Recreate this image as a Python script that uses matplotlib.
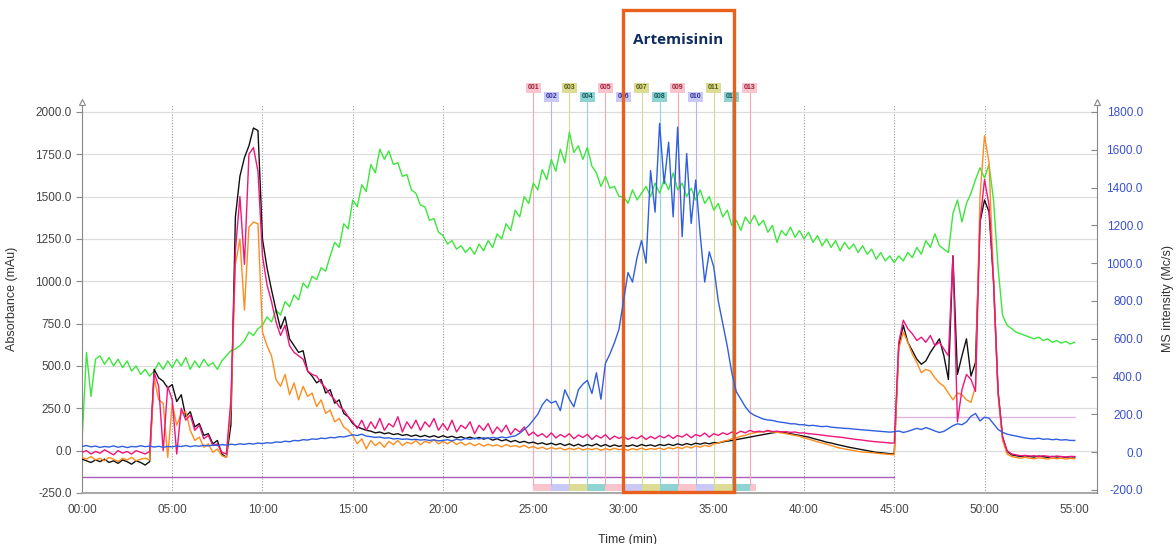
import numpy as np
import matplotlib.pyplot as plt
import matplotlib.transforms as mtransforms
from matplotlib.patches import Rectangle

plt.rcParams['font.family'] = ['Liberation Sans', 'DejaVu Sans']

# time axis, one reading every 15 s (in minutes)
t = np.arange(0, 55.001, 0.25)

# UV traces (mAu), one row per 5 minutes
green = [
    50, 580, 320, 540, 560, 510, 550, 500, 540, 490, 530, 470, 500, 450, 480, 440, 470, 520, 480, 530,
    490, 540, 500, 550, 480, 530, 490, 540, 500, 520, 480, 530, 560, 590, 600, 620, 650, 700, 680, 720,
    740, 790, 760, 830, 800, 880, 850, 920, 890, 990, 960, 1030, 1010, 1080, 1060, 1150, 1230, 1200, 1340, 1310,
    1480, 1440, 1570, 1530, 1690, 1640, 1780, 1720, 1770, 1690, 1700, 1620, 1630, 1540, 1520, 1450, 1440, 1360, 1370, 1290,
    1270, 1220, 1240, 1190, 1210, 1170, 1200, 1160, 1220, 1180, 1240, 1200, 1280, 1250, 1340, 1300, 1420, 1380, 1500, 1460,
    1580, 1540, 1660, 1600, 1720, 1650, 1780, 1700, 1880, 1760, 1800, 1720, 1790, 1680, 1640, 1560, 1620, 1550, 1560, 1500,
    1500, 1460, 1540, 1480, 1520, 1560, 1500, 1580, 1520, 1600, 1540, 1640, 1540, 1580, 1500, 1550, 1480, 1540, 1460, 1500,
    1420, 1460, 1380, 1420, 1330, 1360, 1300, 1380, 1340, 1390, 1330, 1360, 1290, 1330, 1230, 1300, 1270, 1320, 1260, 1300,
    1250, 1290, 1230, 1270, 1210, 1250, 1200, 1240, 1180, 1230, 1190, 1220, 1170, 1210, 1160, 1190, 1130, 1170, 1120, 1150,
    1110, 1150, 1120, 1170, 1140, 1200, 1160, 1240, 1200, 1280, 1210, 1190, 1170, 1400, 1480, 1350, 1460, 1520, 1600, 1670,
    1610, 1690, 1480, 1080, 800, 740, 720, 700, 690, 680, 670, 660, 670, 650, 660, 640, 650, 635, 645, 630,
    640,
]

black = [
    -50, -60, -70, -55, -65, -50, -70, -60, -75, -55, -65, -80, -60, -70, -85, -65, 480, 430, 410, 370,
    390, 290, 330, 200, 230, 140, 160, 90, 100, 40, 60, -20, -40, 150, 1380, 1620, 1730, 1800, 1905, 1890,
    1250, 1080, 950, 830, 720, 790, 660, 620, 580, 590, 470, 440, 400, 420, 340, 360, 280, 300, 220, 200,
    160, 140, 130, 120, 115, 105, 110, 100, 105, 95, 100, 90, 95, 85, 92, 82, 90, 80, 88, 78,
    88, 78, 85, 75, 82, 72, 80, 70, 78, 68, 75, 62, 70, 58, 65, 52, 60, 48, 55, 45,
    50, 40, 46, 36, 44, 34, 42, 30, 40, 28, 38, 26, 36, 28, 40, 26, 36, 24, 34, 25,
    32, 26, 34, 25, 36, 28, 34, 26, 36, 30, 38, 30, 40, 32, 42, 34, 44, 38, 46, 40,
    48, 45, 52, 56, 60, 65, 70, 75, 80, 85, 90, 95, 100, 105, 108, 110, 105, 100, 95, 90,
    85, 80, 72, 65, 58, 50, 45, 38, 32, 26, 20, 15, 10, 5, 0, -5, -10, -12, -15, -18,
    -20, 620, 740, 640, 590, 540, 510, 530, 580, 620, 660, 560, 420, 1150, 450, 560, 660, 440, 520, 1350,
    1480, 1410, 1000, 350, 80, -5, -25, -30, -35, -30, -35, -38, -32, -36, -40, -34, -38, -35, -40, -36,
    -38,
]

magenta = [
    -10, 0, -20, -5, -15, 5, -10, -25, 0, -15, -5, -20, 0, -10, -20, -5, 460, 380, 0, 380,
    300, -20, 250, 180, 210, 120, 150, 70, 90, 30, 40, -10, -20, 300, 1180, 1500, 1100, 1750, 1790, 1650,
    1150, 980, 880, 760, 680, 740, 620, 580, 560, 540, 470, 450, 440, 400, 370, 330, 300, 260, 240, 200,
    170, 130, 180, 120, 170, 130, 190, 120, 160, 140, 200, 110, 170, 130, 180, 120, 170, 140, 190, 120,
    160, 120, 180, 110, 150, 130, 170, 100, 150, 120, 160, 100, 140, 110, 150, 95, 130, 110, 140, 90,
    110, 85, 100, 78, 105, 75, 95, 80, 100, 70, 92, 78, 96, 66, 90, 74, 94, 66, 86, 72,
    85, 66, 80, 70, 88, 66, 84, 70, 88, 75, 92, 72, 90, 80, 98, 76, 95, 85, 104, 80,
    100, 90, 105, 95, 110, 100, 115, 105, 120, 110, 115, 110, 120, 112, 115, 110, 112, 108, 110, 104,
    105, 100, 98, 95, 92, 88, 85, 82, 80, 76, 72, 68, 65, 62, 58, 55, 52, 50, 48, 45,
    45, 640, 770, 720, 690, 650, 670, 640, 680, 620, 640, 600, 560, 1150, 170, 360, 450, 420, 350, 1350,
    1600, 1450, 1000, 350, 80, 0, -20, -25, -30, -28, -32, -30, -35, -30, -33, -36, -32, -35, -38, -34,
    -35,
]

orange = [
    -40, -50, -35, -55, -45, -60, -40, -50, -65, -45, -55, -40, -60, -50, -45, -55, 430, 300, 280, -40,
    280, 150, 220, 230, 120, 60, 80, 20, 40, -10, 10, -30, -40, 250, 1100, 1250, 830, 1320, 1350, 1340,
    700, 620, 560, 420, 380, 450, 330, 400, 300, 380, 320, 340, 260, 300, 220, 240, 170, 190, 140, 120,
    90, 40, 70, 10, 60, 30, 50, 20, 55, 35, 60, 30, 50, 40, 60, 35, 55, 45, 65, 40,
    55, 40, 58, 36, 50, 32, 46, 28, 42, 26, 38, 28, 34, 22, 36, 24, 30, 20, 32, 16,
    25, 12, 20, 8, 18, 10, 16, 4, 14, 6, 16, 4, 12, 6, 14, 2, 12, 4, 14, 6,
    10, 2, 12, 5, 15, 5, 12, 8, 15, 6, 18, 10, 20, 12, 25, 15, 28, 20, 32, 24,
    40, 45, 55, 60, 70, 75, 85, 90, 100, 105, 110, 112, 115, 110, 108, 105, 100, 95, 90, 85,
    75, 68, 60, 52, 45, 38, 30, 22, 15, 10, 5, 0, -5, -8, -10, -12, -15, -18, -20, -22,
    -25, 600, 700, 640, 570, 520, 460, 480, 470, 430, 400, 380, 340, 300, 340, 330, 300, 285, 380, 1500,
    1860, 1700, 1000, 330, 60, -20, -35, -40, -45, -40, -45, -48, -42, -46, -50, -44, -48, -45, -50, -46,
    -48,
]

# MS trace (Mc/s), right axis
blue = [
    30, 35, 28, 32, 25, 30, 27, 33, 26, 31, 24, 30, 28, 34, 29, 32, 27, 31, 26, 30,
    28, 33, 30, 35, 29, 34, 31, 36, 33, 38, 35, 40, 37, 42, 39, 44, 41, 46, 43, 48,
    45, 50, 48, 54, 52, 58, 55, 62, 60, 66, 64, 70, 68, 74, 72, 78, 76, 82, 80, 86,
    92, 88, 95, 85, 82, 78, 80, 74, 76, 70, 72, 68, 70, 66, 68, 64, 66, 62, 65, 60,
    62, 66, 60, 68, 64, 72, 68, 74, 70, 76, 72, 78, 74, 80, 76, 82, 86, 100, 120, 140,
    170, 200, 250, 280, 260, 270, 220, 330, 280, 240, 330, 360, 380, 310, 420, 280, 470, 520, 580, 650,
    800, 950, 900, 1030, 1120, 1000, 1490, 1270, 1740, 1420, 1640, 1245, 1720, 1140, 1580, 1210, 1440, 1150, 900, 1060,
    980, 800, 680, 560, 420, 320, 280, 240, 210, 195, 185, 175, 170, 168, 162, 158, 155, 150, 150, 145,
    145, 140, 142, 138, 135, 137, 132, 130, 128, 126, 125, 122, 120, 118, 116, 114, 112, 110, 108, 106,
    108, 112, 104, 110, 118, 126, 120, 130, 122, 112, 104, 110, 125, 140, 150, 145, 160, 190, 205, 165,
    185, 180, 150, 120, 105, 95, 90, 85, 80, 75, 72, 70, 74, 68, 70, 66, 68, 64, 66, 62,
    62,
]

# event marker lines
marker_lo_t = [0, 45]
marker_lo_v = [-155, -155]
marker_hi_t = [45, 55]
marker_hi_v = [200, 200]

# collected fractions
frac_labels = ['001', '002', '003', '004', '005', '006', '007', '008', '009', '010', '011', '012', '013']
frac_start = [25, 26, 27, 28, 29, 30, 31, 32, 33, 34, 35, 36, 37]
frac_width = [1, 1, 1, 1, 1, 1, 1, 1, 1, 1, 1, 1, 0.35]

box_cols = ['#F9C4CC', '#C9C9F7', '#DCDC94', '#8FD3D3']
txt_cols = ['#A0203A', '#3030A0', '#5A5A10', '#105858']
line_cols = ['#F4A8B2', '#B4B4F0', '#D8D890', '#90D4DC']

xticks = [0, 5, 10, 15, 20, 25, 30, 35, 40, 45, 50, 55]
yticks_l = [-250, 0, 250, 500, 750, 1000, 1250, 1500, 1750, 2000]
yticks_r = [-200, 0, 200, 400, 600, 800, 1000, 1200, 1400, 1600, 1800]

fig = plt.figure(figsize=(11.76, 5.44), dpi=100)
ax = fig.add_axes([0.0697, 0.0938, 0.8631, 0.7132])
ax2 = ax.twinx()

ax.set_xlim(0, 56.23)
ax.set_ylim(-250, 2041)
ax2.set_ylim(-216, 1837)

# grid
ax.set_yticks(yticks_l)
ax.set_yticklabels([f'{v:.1f}' for v in yticks_l])
ax.yaxis.grid(True, color='#DDDDDD', lw=0.9)
ax.set_axisbelow(True)
for xt in xticks[1:-1]:
    ax.axvline(xt, color='#999999', ls=(0, (1, 1.5)), lw=0.8, zorder=0.5)

ax.set_xticks(xticks)
ax.set_xticklabels([f'{m:02d}:00' for m in xticks])

# fraction strip
n = len(frac_labels)
ax.bar(frac_start, [0] * n, width=frac_width, align='edge')
ax.bar(frac_start, [41] * n, width=frac_width, bottom=-238, align='edge',
       color=[box_cols[i % 4] for i in range(n)], lw=0, zorder=1)
ax.plot(marker_lo_t, marker_lo_v, color='#A860B8', lw=1.0, zorder=1)
ax.plot(marker_hi_t, marker_hi_v, color='#E2B4E6', lw=1.0, zorder=1)

trans = mtransforms.blended_transform_factory(ax.transData, ax.transAxes)
for i, (lab, xs) in enumerate(zip(frac_labels, frac_start)):
    yl = 1.044 if i % 2 == 0 else 1.021
    ax.plot([xs, xs], [0.02, yl - 0.01], color=line_cols[i % 4], lw=0.8,
            transform=trans, clip_on=False, zorder=1)
    ax.text(xs, yl, lab, transform=trans, ha='center', va='center', fontsize=5,
            fontweight='bold', color=txt_cols[i % 4], clip_on=False,
            bbox=dict(boxstyle='square,pad=0.25', fc=box_cols[i % 4], ec='none'))

# traces
ax.plot(t, green, color='#3CE63C', lw=1.0, zorder=2)
ax.plot(t, black, color='#111111', lw=1.0, zorder=3)
ax.plot(t, orange, color='#FF8C1E', lw=1.0, zorder=3)
ax.plot(t, magenta, color='#F0147C', lw=1.0, zorder=4)
ax2.plot(t, blue, color='#2F5FE0', lw=1.0, zorder=3)

# axes styling
for s in ['top', 'right']:
    ax.spines[s].set_visible(False)
for s in ['top', 'left', 'bottom']:
    ax2.spines[s].set_visible(False)
ax.spines['left'].set_color('#888888')
ax.spines['bottom'].set_color('#AAAAAA')
ax.spines['bottom'].set_linewidth(1.5)
ax2.spines['right'].set_color('#888888')

ax.tick_params(axis='y', colors='#888888', labelcolor='#444444', labelsize=8.5, length=4)
ax.tick_params(axis='x', colors='#AAAAAA', labelcolor='#444444', labelsize=8.5, length=0, pad=8)
ax2.set_yticks(yticks_r)
ax2.set_yticklabels([f'{v:.1f}' for v in yticks_r])
ax2.tick_params(axis='y', colors='#888888', labelcolor='#3A50D0', labelsize=8.5,
                length=4, direction='in', pad=33)
for lab in ax2.get_yticklabels():
    lab.set_horizontalalignment('right')

ax.set_xlabel('Time (min)', fontsize=9, color='#333333')
ax.xaxis.set_label_coords((628 - 82) / 1015, -0.105)
ax.set_ylabel('Absorbance (mAu)', fontsize=9, color='#333333')
ax.yaxis.set_label_coords(-0.063, 0.5)
ax2.set_ylabel('MS intensity (Mc/s)', fontsize=9, color='#333333')
ax2.yaxis.set_label_coords(1.064, 0.5)

# small open arrow heads on top of the y axes
ax.plot([0, 1], [1.008, 1.008], ls='none', marker='^', ms=5, mfc='white', mec='#888888',
        mew=0.8, transform=ax.transAxes, clip_on=False)

# highlight box for the Artemisinin fractions
ftrans = mtransforms.blended_transform_factory(ax.transData, fig.transFigure)
ax.add_patch(Rectangle((30.0, 1 - 492 / 544), 6.1, (492 - 10) / 544, transform=ftrans,
                       fill=False, ec='#E8601C', lw=2.4, clip_on=False, zorder=10))
ax.text(33.05, 1 - 40 / 544, 'Artemisinin', transform=ftrans, ha='center', va='center',
        fontsize=11, fontweight='bold', color='#0E2C5E', family=['Open Sans', 'DejaVu Sans'])

fig.savefig('out.png', dpi=100)
